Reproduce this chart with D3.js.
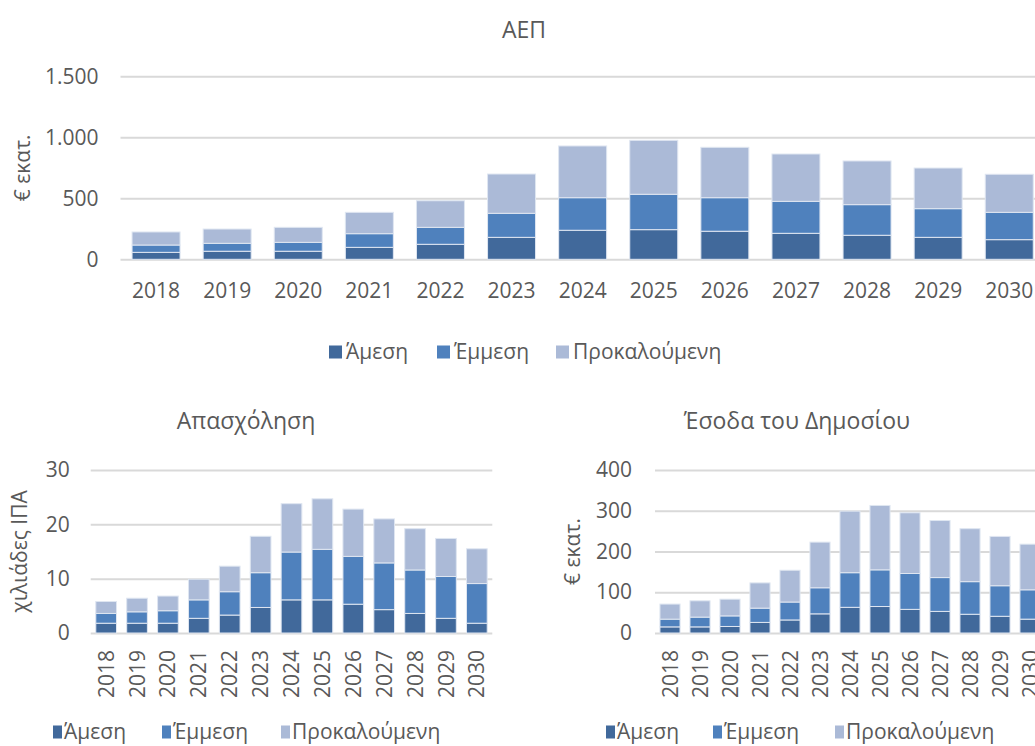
<!DOCTYPE html>
<html lang="el">
<head>
<meta charset="utf-8">
<script src="https://cdn.jsdelivr.net/npm/d3@7"></script>
<style>
  html, body { margin: 0; padding: 0; background: #ffffff; }
  svg { display: block; font-family: "Open Sans", "Noto Sans", sans-serif; }
  .tick text { fill: #595959; }
  text { fill: #595959; }
</style>
</head>
<body>
<svg id="chart" width="1035" height="746"></svg>
<script>
// Categories
const years = ["2018","2019","2020","2021","2022","2023","2024","2025","2026","2027","2028","2029","2030"];
const seriesNames = ["Άμεση", "Έμμεση", "Προκαλούμενη"];
const seriesColors = ["#41699b", "#4f81bd", "#abbad7"];

// ΑΕΠ (€ εκατ.)
const gdpDirect   = [57, 66, 66, 98, 123, 180, 238, 243, 230, 213, 197, 180, 161];
const gdpIndirect = [60, 65, 73, 112, 139, 197, 267, 290, 275, 262, 251, 235, 224];
const gdpInduced  = [107, 117, 123, 175, 218, 322, 424, 442, 413, 388, 358, 333, 312];

// Απασχόληση (χιλιάδες ΙΠΑ)
const jobsDirect   = [1.8, 1.8, 1.8, 2.7, 3.3, 4.7, 6.1, 6.1, 5.3, 4.3, 3.6, 2.7, 1.8];
const jobsIndirect = [1.8, 2.1, 2.3, 3.4, 4.3, 6.4, 8.8, 9.3, 8.8, 8.6, 8.0, 7.7, 7.3];
const jobsInduced  = [2.2, 2.5, 2.7, 3.8, 4.7, 6.7, 8.9, 9.3, 8.7, 8.1, 7.6, 7.0, 6.4];

// Έσοδα του Δημοσίου (€ εκατ.)
const revDirect   = [15, 15, 16, 26, 32, 47, 63, 65, 58, 53, 46, 41, 34];
const revIndirect = [19, 24, 26, 35, 44, 64, 85, 90, 88, 83, 80, 75, 72];
const revInduced  = [37, 40, 41, 62, 78, 112, 151, 158, 149, 140, 130, 121, 112];

// Axis ticks
const gdpTicks  = [0, 500, 1000, 1500];
const jobsTicks = [0, 10, 20, 30];
const revTicks  = [0, 100, 200, 300, 400];

const greek = d3.formatLocale({ decimal: ",", thousands: ".", grouping: [3], currency: ["", " €"] });
const fmtInt = greek.format(",.0f");

const svg = d3.select("#chart");
const GRID = "#d9d9d9";
const FONT = "Open Sans, Noto Sans, sans-serif";

function buildRows(a, b, c) {
  return years.map((y, i) => ({ year: y, "Άμεση": a[i], "Έμμεση": b[i], "Προκαλούμενη": c[i] }));
}

function drawPanel(opt) {
  const rows = buildRows(opt.a, opt.b, opt.c);
  const stacked = d3.stack().keys(seriesNames)(rows);

  const x = d3.scaleBand().domain(years).range([opt.left, opt.right]).paddingInner(opt.pad).paddingOuter(opt.pad / 2);
  const y = d3.scaleLinear().domain([0, opt.max]).range([opt.bottom, opt.top]);
  const g = svg.append("g");

  // horizontal gridlines with value labels
  const yAxis = d3.axisLeft(y).tickValues(opt.ticks).tickFormat(fmtInt)
    .tickSizeInner(-(opt.right - opt.left)).tickSizeOuter(0).tickPadding(opt.tickPad);
  const ya = g.append("g").attr("transform", `translate(${opt.left},0)`).call(yAxis);
  ya.select(".domain").remove();
  ya.selectAll(".tick line").attr("stroke", GRID).attr("stroke-width", 2);
  ya.selectAll(".tick text").attr("font-size", opt.fs).attr("font-family", FONT);

  // stacked bars
  g.append("g").selectAll("g").data(stacked).join("g")
    .attr("fill", (d, i) => seriesColors[i])
    .selectAll("rect").data(d => d).join("rect")
    .attr("x", d => x(d.data.year))
    .attr("width", x.bandwidth())
    .attr("y", d => y(d[1]))
    .attr("height", d => y(d[0]) - y(d[1]))
    .attr("stroke", "#dfe6f1").attr("stroke-width", 1);

  // category labels
  const xAxis = d3.axisBottom(x).tickSize(0).tickPadding(opt.xPad);
  const xa = g.append("g").attr("transform", `translate(0,${opt.bottom})`).call(xAxis);
  xa.select(".domain").remove();
  const xt = xa.selectAll(".tick text").attr("font-size", opt.fs).attr("font-family", FONT);
  if (opt.rotate) {
    xt.attr("transform", "rotate(-90)").attr("text-anchor", "end")
      .attr("x", -opt.xPad).attr("y", 0).attr("dy", "0.36em");
  }

  // title
  g.append("text").attr("x", opt.titleX).attr("y", opt.titleY)
    .attr("text-anchor", "middle").attr("font-size", opt.titleFs).text(opt.title);

  // axis title
  g.append("text")
    .attr("transform", `translate(${opt.yTitleX},${(opt.top + opt.bottom) / 2}) rotate(-90)`)
    .attr("text-anchor", "middle").attr("font-size", opt.fs).text(opt.yTitle);

  // legend
  const lg = g.append("g");
  seriesNames.forEach((name, i) => {
    const lx = opt.legendX[i];
    lg.append("rect").attr("x", lx).attr("y", opt.legendY - 6.5).attr("width", opt.sw).attr("height", 13)
      .attr("fill", seriesColors[i]);
    lg.append("text").attr("x", lx + opt.sw + opt.gap).attr("y", opt.legendY).attr("dy", "0.35em")
      .attr("font-size", opt.legendFs).text(name);
  });
}

// ΑΕΠ
drawPanel({
  a: gdpDirect, b: gdpIndirect, c: gdpInduced,
  left: 120.5, right: 1044.8, top: 76.3, bottom: 259.3, max: 1500, ticks: gdpTicks,
  pad: 0.325, fs: 21, tickPad: 22, xPad: 24, rotate: false,
  title: "ΑΕΠ", titleX: 524, titleY: 38, titleFs: 23,
  yTitle: "€ εκατ.", yTitleX: 30,
  legendX: [329, 437, 556], legendY: 352, sw: 13, gap: 4, legendFs: 21
});

// Απασχόληση
drawPanel({
  a: jobsDirect, b: jobsIndirect, c: jobsInduced,
  left: 90.7, right: 492.3, top: 470, bottom: 633, max: 30, ticks: jobsTicks,
  pad: 0.33, fs: 21, tickPad: 21, xPad: 17, rotate: true,
  title: "Απασχόληση", titleX: 246, titleY: 429, titleFs: 23,
  yTitle: "χιλιάδες ΙΠΑ", yTitleX: 27,
  legendX: [53, 162, 281], legendY: 732, sw: 9, gap: 2, legendFs: 21
});

// Έσοδα του Δημοσίου
drawPanel({
  a: revDirect, b: revIndirect, c: revInduced,
  left: 655, right: 1045, top: 470, bottom: 633, max: 400, ticks: revTicks,
  pad: 0.33, fs: 21, tickPad: 23, xPad: 17, rotate: true,
  title: "Έσοδα του Δημοσίου", titleX: 797, titleY: 429, titleFs: 23,
  yTitle: "€ εκατ.", yTitleX: 580,
  legendX: [606, 713, 835], legendY: 732, sw: 9, gap: 2, legendFs: 21
});
</script>
</body>
</html>
